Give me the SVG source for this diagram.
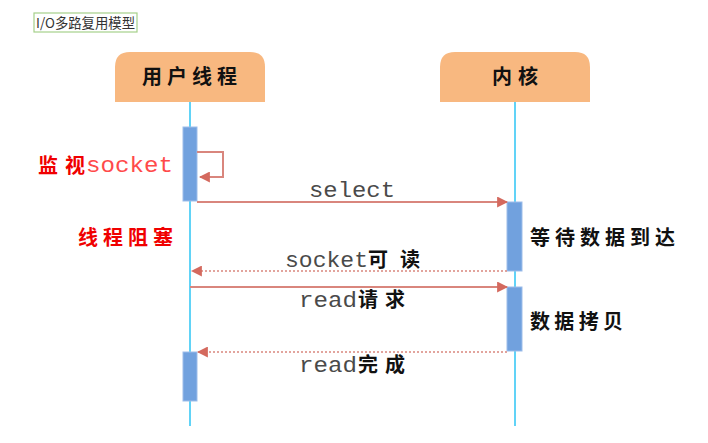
<svg xmlns="http://www.w3.org/2000/svg" width="708" height="443" viewBox="0 0 708 443">
<style>
.bg{fill:#ffffff}
.head{fill:#F8B880}
.life{stroke:#2DC4F5;stroke-width:1.5;fill:none}
.act{fill:#71A1DE;stroke:#9DBDEA;stroke-width:1}
.msg{stroke:#D9867D;stroke-width:2;fill:none}
.ret{stroke:#D9867D;stroke-width:1.5;fill:none;stroke-dasharray:2 2}
.cn{font-family:"Noto Sans CJK SC","Noto Sans",sans-serif;font-weight:bold}
.mono{font-family:"Liberation Mono","Courier New",monospace;font-size:22px;fill:#4a4a4a}
.hd{font-size:20px;fill:#111}
.red{fill:#F00000;font-size:20px}
.lbl{font-size:20px;fill:#111}
.lbl2{font-size:20px;fill:#111}
</style>
<defs>
<marker id="ah" viewBox="0 0 10 10" refX="9" refY="5" markerWidth="11" markerHeight="11" markerUnits="userSpaceOnUse" orient="auto">
<path d="M0,0 L10,5 L0,10 z" fill="#D4695E"/>
</marker>
</defs>
<rect class="bg" x="0" y="0" width="708" height="443"/>
<g id="title">
<rect x="34" y="13" width="103" height="19" fill="#ffffff" stroke="#A6D08A" stroke-width="1.2"/>
<text x="36" y="28" font-family="'Noto Sans CJK SC','Noto Sans',sans-serif" font-size="13.5" fill="#333" textLength="99" lengthAdjust="spacingAndGlyphs">I/O多路复用模型</text>
</g>
<g id="lifelines">
<line class="life" x1="190" y1="102" x2="190" y2="426"/>
<line class="life" x1="515" y1="102" x2="515" y2="426"/>
</g>
<g id="user-thread">
<path class="head" d="M115,102 V67 Q115,52 130,52 H250 Q265,52 265,67 V102 Z"/>
<text class="cn hd" x="142" y="84" textLength="95" lengthAdjust="spacing">用户线程</text>
</g>
<g id="kernel">
<path class="head" d="M440,102 V67 Q440,52 455,52 H575 Q590,52 590,67 V102 Z"/>
<text class="cn hd" x="492" y="84" textLength="46" lengthAdjust="spacing">内核</text>
</g>
<g id="activations">
<rect id="user-act-1" class="act" x="183" y="127" width="14" height="74"/>
<rect id="kernel-act-1" class="act" x="507" y="202" width="15" height="69"/>
<rect id="kernel-act-2" class="act" x="507" y="287" width="15" height="64"/>
<rect id="user-act-2" class="act" x="183" y="352" width="14" height="49"/>
</g>
<g id="connectors">
<polyline class="msg" points="197,152 223,152 223,177 200,177" stroke-width="1.5" marker-end="url(#ah)"/>
<line class="msg" x1="197" y1="202" x2="507" y2="202" marker-end="url(#ah)"/>
<line class="ret" x1="507" y1="271" x2="192" y2="271" marker-end="url(#ah)"/>
<line class="msg" x1="190" y1="287" x2="507" y2="287" marker-end="url(#ah)"/>
<line class="ret" x1="507" y1="352" x2="198" y2="352" marker-end="url(#ah)"/>
</g>
<g id="labels">
<text class="cn red" x="38" y="173" font-size="21" textLength="47" lengthAdjust="spacing">监视</text>
<text x="86" y="172" font-family="'Liberation Mono','Courier New',monospace" font-size="22" fill="#FF4A4A" textLength="87" lengthAdjust="spacingAndGlyphs">socket</text>
<text class="cn red" x="78" y="245" font-size="21" textLength="95" lengthAdjust="spacing">线程阻塞</text>
<text class="mono" x="309" y="197" textLength="86" lengthAdjust="spacingAndGlyphs">select</text>
<text class="mono" x="285" y="267" textLength="83" lengthAdjust="spacingAndGlyphs">socket</text>
<text class="cn lbl2" x="368" y="267" textLength="52" lengthAdjust="spacing">可读</text>
<text class="mono" x="299" y="307" textLength="58" lengthAdjust="spacingAndGlyphs">read</text>
<text class="cn lbl2" x="358" y="307" textLength="47" lengthAdjust="spacing">请求</text>
<text class="mono" x="299" y="372" textLength="58" lengthAdjust="spacingAndGlyphs">read</text>
<text class="cn lbl2" x="358" y="372" textLength="47" lengthAdjust="spacing">完成</text>
<text class="cn lbl" x="530" y="245" textLength="145" lengthAdjust="spacing">等待数据到达</text>
<text class="cn lbl" x="530" y="329" textLength="93" lengthAdjust="spacing">数据拷贝</text>
</g>
</svg>
